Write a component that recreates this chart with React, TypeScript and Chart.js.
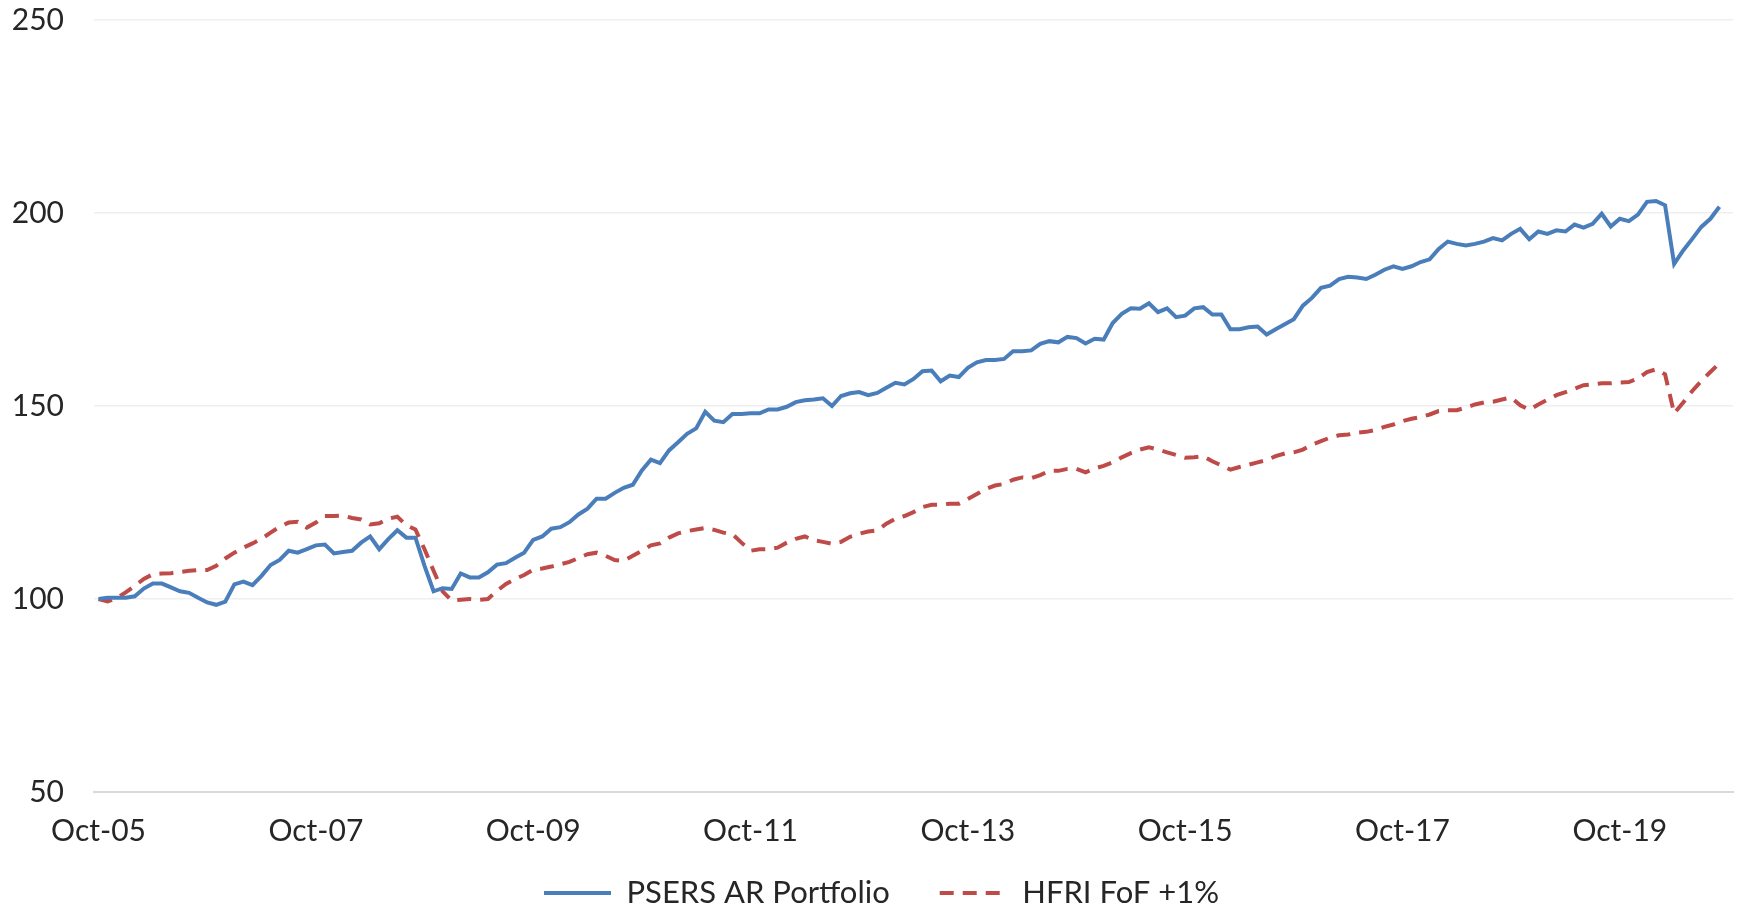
import React, { useEffect, useRef } from "react";
import { Chart, registerables } from "chart.js";

Chart.register(...registerables);

const MONTHS = ["Jan", "Feb", "Mar", "Apr", "May", "Jun", "Jul", "Aug", "Sep", "Oct", "Nov", "Dec"];
const START_YEAR = 2005;
const START_MONTH = 9; // Oct
const CATEGORY_COUNT = 181; // Oct-05 .. Oct-20
const TICK_EVERY = 24;

const categories: string[] = [];
for (let k = 0; k < CATEGORY_COUNT; k++) {
  const m = (START_MONTH + k) % 12;
  const y = START_YEAR + Math.floor((START_MONTH + k) / 12);
  categories.push(`${MONTHS[m]}-${String(y % 100).padStart(2, "0")}`);
}

const psersAR: number[] = [
  100, 100.3, 100.3, 100.3, 100.7, 102.7, 104, 104, 103, 102,
  101.6, 100.3, 99.1, 98.5, 99.3, 103.8, 104.5, 103.6, 106, 108.8,
  110.1, 112.5, 112, 112.9, 113.9, 114.1, 111.8, 112.2, 112.5, 114.6,
  116.2, 112.9, 115.5, 117.8, 115.9, 115.9, 108.6, 102, 102.8, 102.6,
  106.6, 105.6, 105.6, 106.9, 108.9, 109.3, 110.7, 112, 115.3, 116.2,
  118.2, 118.6, 119.9, 121.9, 123.4, 126, 126, 127.5, 128.8, 129.6,
  133.3, 136.1, 135.2, 138.5, 140.6, 142.8, 144.2, 148.5, 146.2, 145.8,
  147.9, 147.9, 148.1, 148.1, 149.1, 149.1, 149.8, 151, 151.5, 151.7,
  152, 150, 152.6, 153.3, 153.6, 152.8, 153.4, 154.7, 156, 155.6,
  157, 159, 159.2, 156.4, 157.9, 157.5, 159.9, 161.3, 161.9, 161.9,
  162.2, 164.2, 164.2, 164.4, 166.1, 166.8, 166.5, 167.9, 167.6, 166.2,
  167.4, 167.2, 171.5, 173.9, 175.3, 175.2, 176.6, 174.3, 175.3, 173,
  173.4, 175.3, 175.6, 173.7, 173.7, 169.9, 169.9, 170.4, 170.6, 168.5,
  169.9, 171.2, 172.5, 176, 178, 180.6, 181.2, 182.9, 183.5, 183.3,
  182.9, 184, 185.3, 186.2, 185.5, 186.2, 187.3, 188, 190.7, 192.6,
  192, 191.6, 192, 192.6, 193.5, 192.9, 194.6, 195.9, 193.2, 195.2,
  194.6, 195.5, 195.2, 197, 196.2, 197.2, 199.8, 196.5, 198.5, 197.9,
  199.6, 202.9, 203.1, 202, 186.8, 190.3, 193.3, 196.4, 198.5, 201.6,
];

const hfriFoFPlus1: number[] = [
  100, 99.4, 100.2, 101.7, 103.4, 105.2, 106.4, 106.6, 106.7, 107,
  107.3, 107.5, 107.5, 108.6, 110.5, 112, 113.3, 114.4, 115.6, 117.2,
  118.7, 119.8, 120, 118.5, 119.8, 121.5, 121.5, 121.6, 121, 120.6,
  119.3, 119.6, 120.8, 121.3, 119.1, 118, 112.9, 107.3, 102, 99.6,
  99.8, 100, 99.8, 100, 102.1, 103.9, 105.2, 106.2, 107.6, 107.9,
  108.4, 109, 109.6, 110.6, 111.6, 112, 111.2, 110.1, 109.9, 111.2,
  112.5, 113.9, 114.4, 115.9, 117, 117.6, 118, 118.4, 117.9, 117.2,
  116.8, 114.6, 112.5, 112.9, 112.9, 113.3, 114.6, 115.6, 116.2, 115.2,
  114.8, 114.3, 114.8, 116.1, 116.9, 117.5, 117.8, 119.5, 120.8, 121.5,
  122.5, 123.8, 124.4, 124.4, 124.7, 124.7, 125.9, 127.2, 128.5, 129.4,
  129.8, 130.9, 131.5, 131.3, 132.1, 133.2, 133.2, 133.7, 133.7, 132.8,
  133.8, 134.5, 135.4, 136.7, 137.8, 138.7, 139.3, 138.7, 138, 137.3,
  136.6, 136.7, 137, 135.7, 134.6, 133.5, 134.2, 134.8, 135.4, 136,
  137, 137.7, 138, 138.7, 140, 140.9, 141.8, 142.4, 142.6, 143.1,
  143.3, 143.8, 144.6, 145.2, 146.1, 146.7, 147.1, 147.8, 148.7, 148.9,
  148.9, 149.6, 150.4, 150.9, 151.1, 151.7, 152.2, 150.2, 149, 150.4,
  151.6, 152.8, 153.6, 154.5, 155.4, 155.6, 155.9, 155.9, 156.1, 156.2,
  157.1, 158.8, 159.5, 158.2, 148.1, 150.9, 153.9, 156.5, 158.8, 161.1,
];

const Y_MIN = 50;
const Y_MAX = 250;
const Y_STEP = 50;

const FONT = "Lato, 'Open Sans', sans-serif";
const TEXT_COLOR = "#262626";
const BLUE = "#4A7EBB";
const RED = "#BE4B48";
const DASH = [14, 9];

// nudges the bottom legend into the place it has in the reference
const legendShift = {
  id: "legendShift",
  afterLayout(chart: any) {
    const lg = chart.legend;
    if (!lg) return;
    lg.top -= 20.5;
    lg.bottom += 40;
    lg.height = lg.bottom - lg.top;
    lg.left += 10;
    lg.right += 10;
  },
};

export default function App() {
  const canvasRef = useRef<HTMLCanvasElement | null>(null);

  useEffect(() => {
    const canvas = canvasRef.current;
    if (!canvas) return;
    const chart = new Chart(canvas, {
      type: "line",
      data: {
        labels: categories,
        datasets: [
          {
            label: "PSERS AR Portfolio",
            data: psersAR,
            borderColor: BLUE,
            backgroundColor: BLUE,
            borderWidth: 4,
            pointRadius: 0,
            tension: 0,
            fill: false,
          },
          {
            label: "HFRI FoF +1%",
            data: hfriFoFPlus1,
            borderColor: RED,
            backgroundColor: RED,
            borderWidth: 4,
            borderDash: DASH,
            pointRadius: 0,
            tension: 0,
            fill: false,
          },
        ],
      },
      plugins: [legendShift],
      options: {
        animation: false,
        responsive: true,
        maintainAspectRatio: false,
        devicePixelRatio: 1,
        layout: { padding: { left: 10, right: 7, top: 20, bottom: 0 } },
        plugins: {
          tooltip: { enabled: false },
          legend: {
            position: "bottom",
            maxHeight: 61,
            labels: {
              usePointStyle: true,
              pointStyle: "line",
              pointStyleWidth: 67,
              padding: 50,
              color: TEXT_COLOR,
              font: { family: FONT, size: 31 },
              generateLabels: (c: any) => {
                const items = Chart.defaults.plugins.legend.labels.generateLabels(c);
                items.forEach((it: any) => {
                  const ds: any = c.data.datasets[it.datasetIndex];
                  it.lineDash = ds.borderDash || [];
                  it.lineWidth = 4;
                  it.lineCap = "butt";
                  it.strokeStyle = ds.borderColor;
                  it.fillStyle = ds.borderColor;
                });
                return items;
              },
            },
          },
        },
        scales: {
          x: {
            offset: true,
            grid: { display: false, drawTicks: false },
            border: { display: true, color: "#D9D9D9", width: 2 },
            ticks: {
              autoSkip: false,
              maxRotation: 0,
              padding: 21,
              color: TEXT_COLOR,
              font: { family: FONT, size: 30 },
              callback: (_v: any, i: number) => (i % TICK_EVERY === 0 ? categories[i] : ""),
            },
            afterFit: (scale: any) => {
              scale.height = 56;
              scale.paddingLeft = 0;
              scale.paddingRight = 0;
            },
          },
          y: {
            min: Y_MIN,
            max: Y_MAX,
            grid: { color: "#EFEFEF", lineWidth: 1.5, drawTicks: false },
            border: { display: false },
            ticks: {
              stepSize: Y_STEP,
              padding: 30,
              color: TEXT_COLOR,
              font: { family: FONT, size: 30 },
            },
            afterFit: (scale: any) => {
              scale.width = 84;
              scale.paddingTop = 0;
              scale.paddingBottom = 0;
            },
          },
        },
      },
    });
    return () => chart.destroy();
  }, []);

  return (
    <div style={{ position: "fixed", left: 0, top: 0, width: 1740, height: 909, background: "#fff" }}>
      <canvas ref={canvasRef} />
    </div>
  );
}
